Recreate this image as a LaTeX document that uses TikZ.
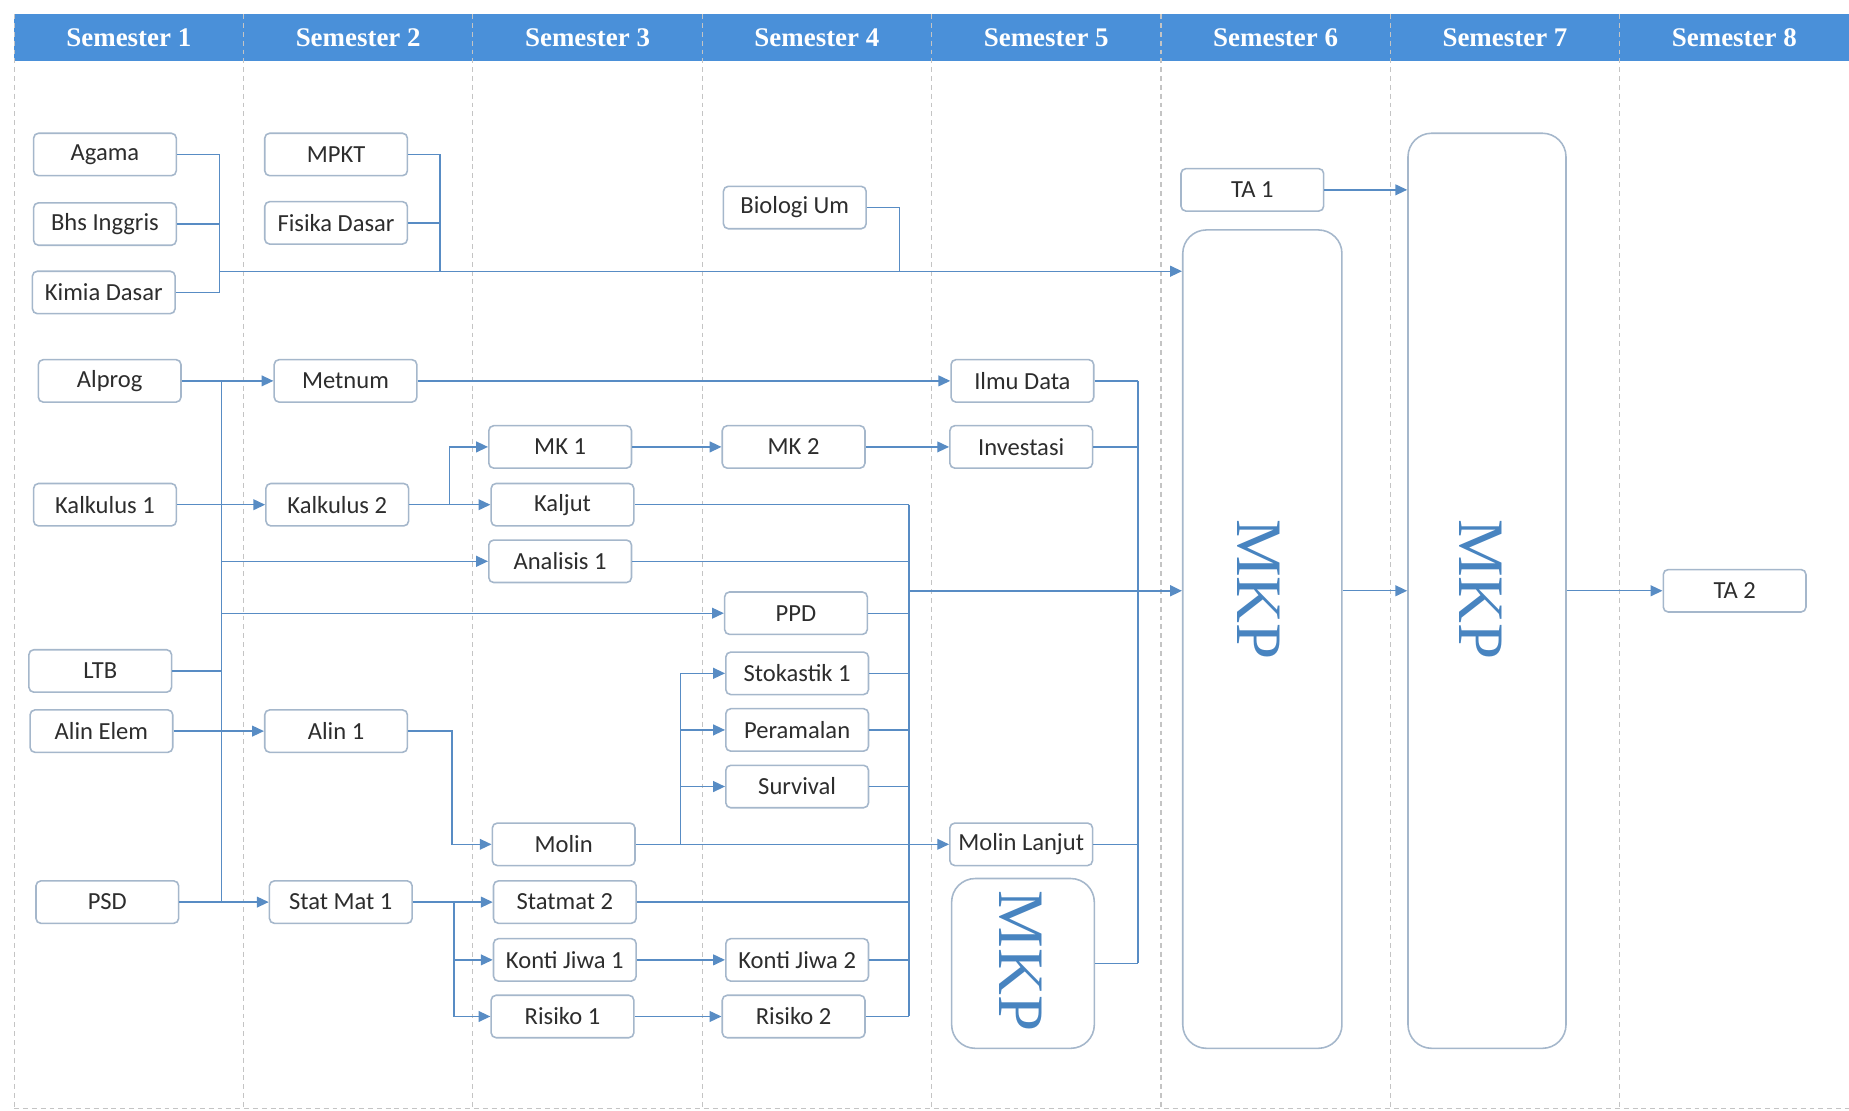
\documentclass[tikz,border=0pt]{standalone}
\usepackage{fontspec}
\setmainfont{Carlito}
\newfontfamily\semfont{Liberation Serif}
\usetikzlibrary{arrows.meta}
\definecolor{headblue}{RGB}{74,144,217}
\definecolor{linkblue}{RGB}{88,140,196}
\definecolor{boxgray}{RGB}{165,183,203}
\definecolor{sepgray}{RGB}{196,196,196}
\definecolor{mkpblue}{RGB}{72,132,192}
\definecolor{txtgray}{RGB}{45,45,45}
\begin{document}
\begin{tikzpicture}[x=0.6pt,y=0.6pt,yscale=-1,
    course/.style={draw=boxgray,line width=0.8pt,rounded corners=2.5pt,fill=white,minimum width=72.6pt,minimum height=21.6pt,inner sep=0pt,text=txtgray,font=\fontsize{12.5}{15}\selectfont},
    mkpbox/.style={draw=boxgray,line width=0.8pt,rounded corners=12pt,fill=white,inner sep=0pt},
    mkptext/.style={text=mkpblue,font=\semfont\fontsize{33}{36}\selectfont,rotate=-90,inner sep=0pt},
    link/.style={draw=linkblue,line width=0.7pt},
    arr/.style={link,-{Triangle[length=6pt,width=5.5pt]}},
    sep/.style={draw=sepgray,line width=0.6pt,dash pattern=on 2.5pt off 2pt},
    semhead/.style={text=white,font=\semfont\bfseries\fontsize{13.7}{16}\selectfont}]
    \useasboundingbox (0,0) rectangle (1568,942);
    \fill[headblue] (12,12) rectangle (1568,52);
    \foreach \i in {0,...,7}
        \draw[sep] ({12+194.5*\i},12) -- ({12+194.5*\i},940);
    \draw[sep] (12,940) -- (1568,940);
    \foreach \i in {1,...,8}
        \node[semhead] (sem\i) at ({12+194.5*(\i-1)+97.25},32) {Semester \i};

    \node[course] (agama) at (89,131) {Agama};
    \node[course] (bhs) at (89,190) {Bhs Inggris};
    \node[course] (kimia) at (88,248) {Kimia Dasar};
    \node[course] (alprog) at (93,323) {Alprog};
    \node[course] (kalk1) at (89,428) {Kalkulus 1};
    \node[course] (ltb) at (85,569) {LTB};
    \node[course] (alinel) at (86,620) {Alin Elem};
    \node[course] (psd) at (91,765) {PSD};

    \node[course] (mpkt) at (285,131) {MPKT};
    \node[course] (fisika) at (285,189) {Fisika Dasar};
    \node[course] (metnum) at (293,323) {Metnum};
    \node[course] (kalk2) at (286,428) {Kalkulus 2};
    \node[course] (alin1) at (285,620) {Alin 1};
    \node[course] (stat1) at (289,765) {Stat Mat 1};

    \node[course] (mk1) at (475,379) {MK 1};
    \node[course] (kaljut) at (477,428) {Kaljut};
    \node[course] (anal1) at (475,476) {Analisis 1};
    \node[course] (molin) at (478,716) {Molin};
    \node[course] (stat2) at (479,765) {Statmat 2};
    \node[course] (konti1) at (479,814) {Konti Jiwa 1};
    \node[course] (risiko1) at (477,862) {Risiko 1};

    \node[course] (bio) at (674,176) {Biologi Um};
    \node[course] (mk2) at (673,379) {MK 2};
    \node[course] (ppd) at (675,520) {PPD};
    \node[course] (stok) at (676,571) {Stokastik 1};
    \node[course] (peram) at (676,619) {Peramalan};
    \node[course] (surv) at (676,667) {Survival};
    \node[course] (konti2) at (676,814) {Konti Jiwa 2};
    \node[course] (risiko2) at (673,862) {Risiko 2};

    \node[course] (ilmu) at (867,323) {Ilmu Data};
    \node[course] (invest) at (866,379) {Investasi};
    \node[course] (molinl) at (866,716) {Molin Lanjut};
    \node[mkpbox,minimum width=72.6pt,minimum height=86.4pt] (mkp5) at (867.5,817) {};
    \node[mkptext] (mkp5lbl) at (866,815) {MKP};

    \node[course] (ta1) at (1062,161) {TA 1};
    \node[mkpbox,minimum width=81pt,minimum height=416.4pt] (mkp6) at (1070.5,542) {};
    \node[mkptext] (mkp6lbl) at (1067,500) {MKP};

    \node[mkpbox,minimum width=80.4pt,minimum height=465.6pt] (mkp7) at (1261,501) {};
    \node[mkptext] (mkp7lbl) at (1256,500) {MKP};

    \node[course] (ta2) at (1471,501) {TA 2};

    \coordinate (busA) at (186,230);
    \coordinate (busB) at (373,230);
    \coordinate (busC) at (763,230);
    \draw[link] (agama.east) -| (busA);
    \draw[link] (bhs.east) -- (bhs.east -| busA);
    \draw[link] (kimia.east) -| (busA);
    \draw[link] (mpkt.east) -| (busB);
    \draw[link] (fisika.east) -- (fisika.east -| busB);
    \draw[link] (bio.east) -| (busC);
    \draw[arr] (busA) -- (busA -| mkp6.west);

    \coordinate (bTop) at (188,323);
    \coordinate (bBot) at (188,765);
    \draw[link] (bTop) -- (bBot);
    \draw[arr] (alprog) -- (metnum);
    \draw[arr] (kalk1) -- (kalk2);
    \draw[arr] (bTop |- anal1.west) -- (anal1.west);
    \draw[arr] (bTop |- ppd.west) -- (ppd.west);
    \draw[link] (ltb.east) -- (ltb.east -| bTop);
    \draw[arr] (alinel) -- (alin1);
    \draw[arr] (psd) -- (stat1);

    \draw[arr] (metnum) -- (ilmu);
    \draw[arr] (kalk2.east) -- ++(34,0) |- (mk1.west);
    \draw[arr] (kalk2) -- (kaljut);
    \draw[arr] (mk1) -- (mk2);
    \draw[arr] (mk2) -- (invest);
    \draw[arr] (alin1.east) -- ++(37,0) |- (molin.west);

    \coordinate (sBus) at (385,765);
    \draw[arr] (stat1) -- (stat2);
    \draw[arr] (sBus) |- (konti1.west);
    \draw[arr] (sBus) |- (risiko1.west);
    \draw[arr] (konti1) -- (konti2);
    \draw[arr] (risiko1) -- (risiko2);

    \coordinate (mBus) at (577,716);
    \draw[arr] (molin) -- (molinl);
    \draw[arr] (mBus) |- (stok.west);
    \draw[arr] (mBus) |- (peram.west);
    \draw[arr] (mBus) |- (surv.west);

    \coordinate (kTop) at (771,428);
    \coordinate (kBot) at (771,862);
    \coordinate (kMid) at (771,501);
    \draw[link] (kTop) -- (kBot);
    \foreach \n in {kaljut,anal1,ppd,stok,peram,surv,stat2,konti2,risiko2}
        \draw[link] (\n.east) -- (\n.east -| kTop);
    \draw[arr,line width=1pt] (kMid) -- (kMid -| mkp6.west);

    \coordinate (rTop) at (965,323);
    \coordinate (rBot) at (965,817);
    \draw[link] (rTop) -- (rBot);
    \foreach \n in {ilmu,invest,molinl,mkp5}
        \draw[link] (\n.east) -- (\n.east -| rTop);

    \draw[arr] (ta1.east) -- (ta1.east -| mkp7.west);
    \draw[arr] (mkp6.east |- kMid) -- (mkp7.west |- kMid);
    \draw[arr] (mkp7.east |- ta2) -- (ta2.west);
\end{tikzpicture}
\end{document}
